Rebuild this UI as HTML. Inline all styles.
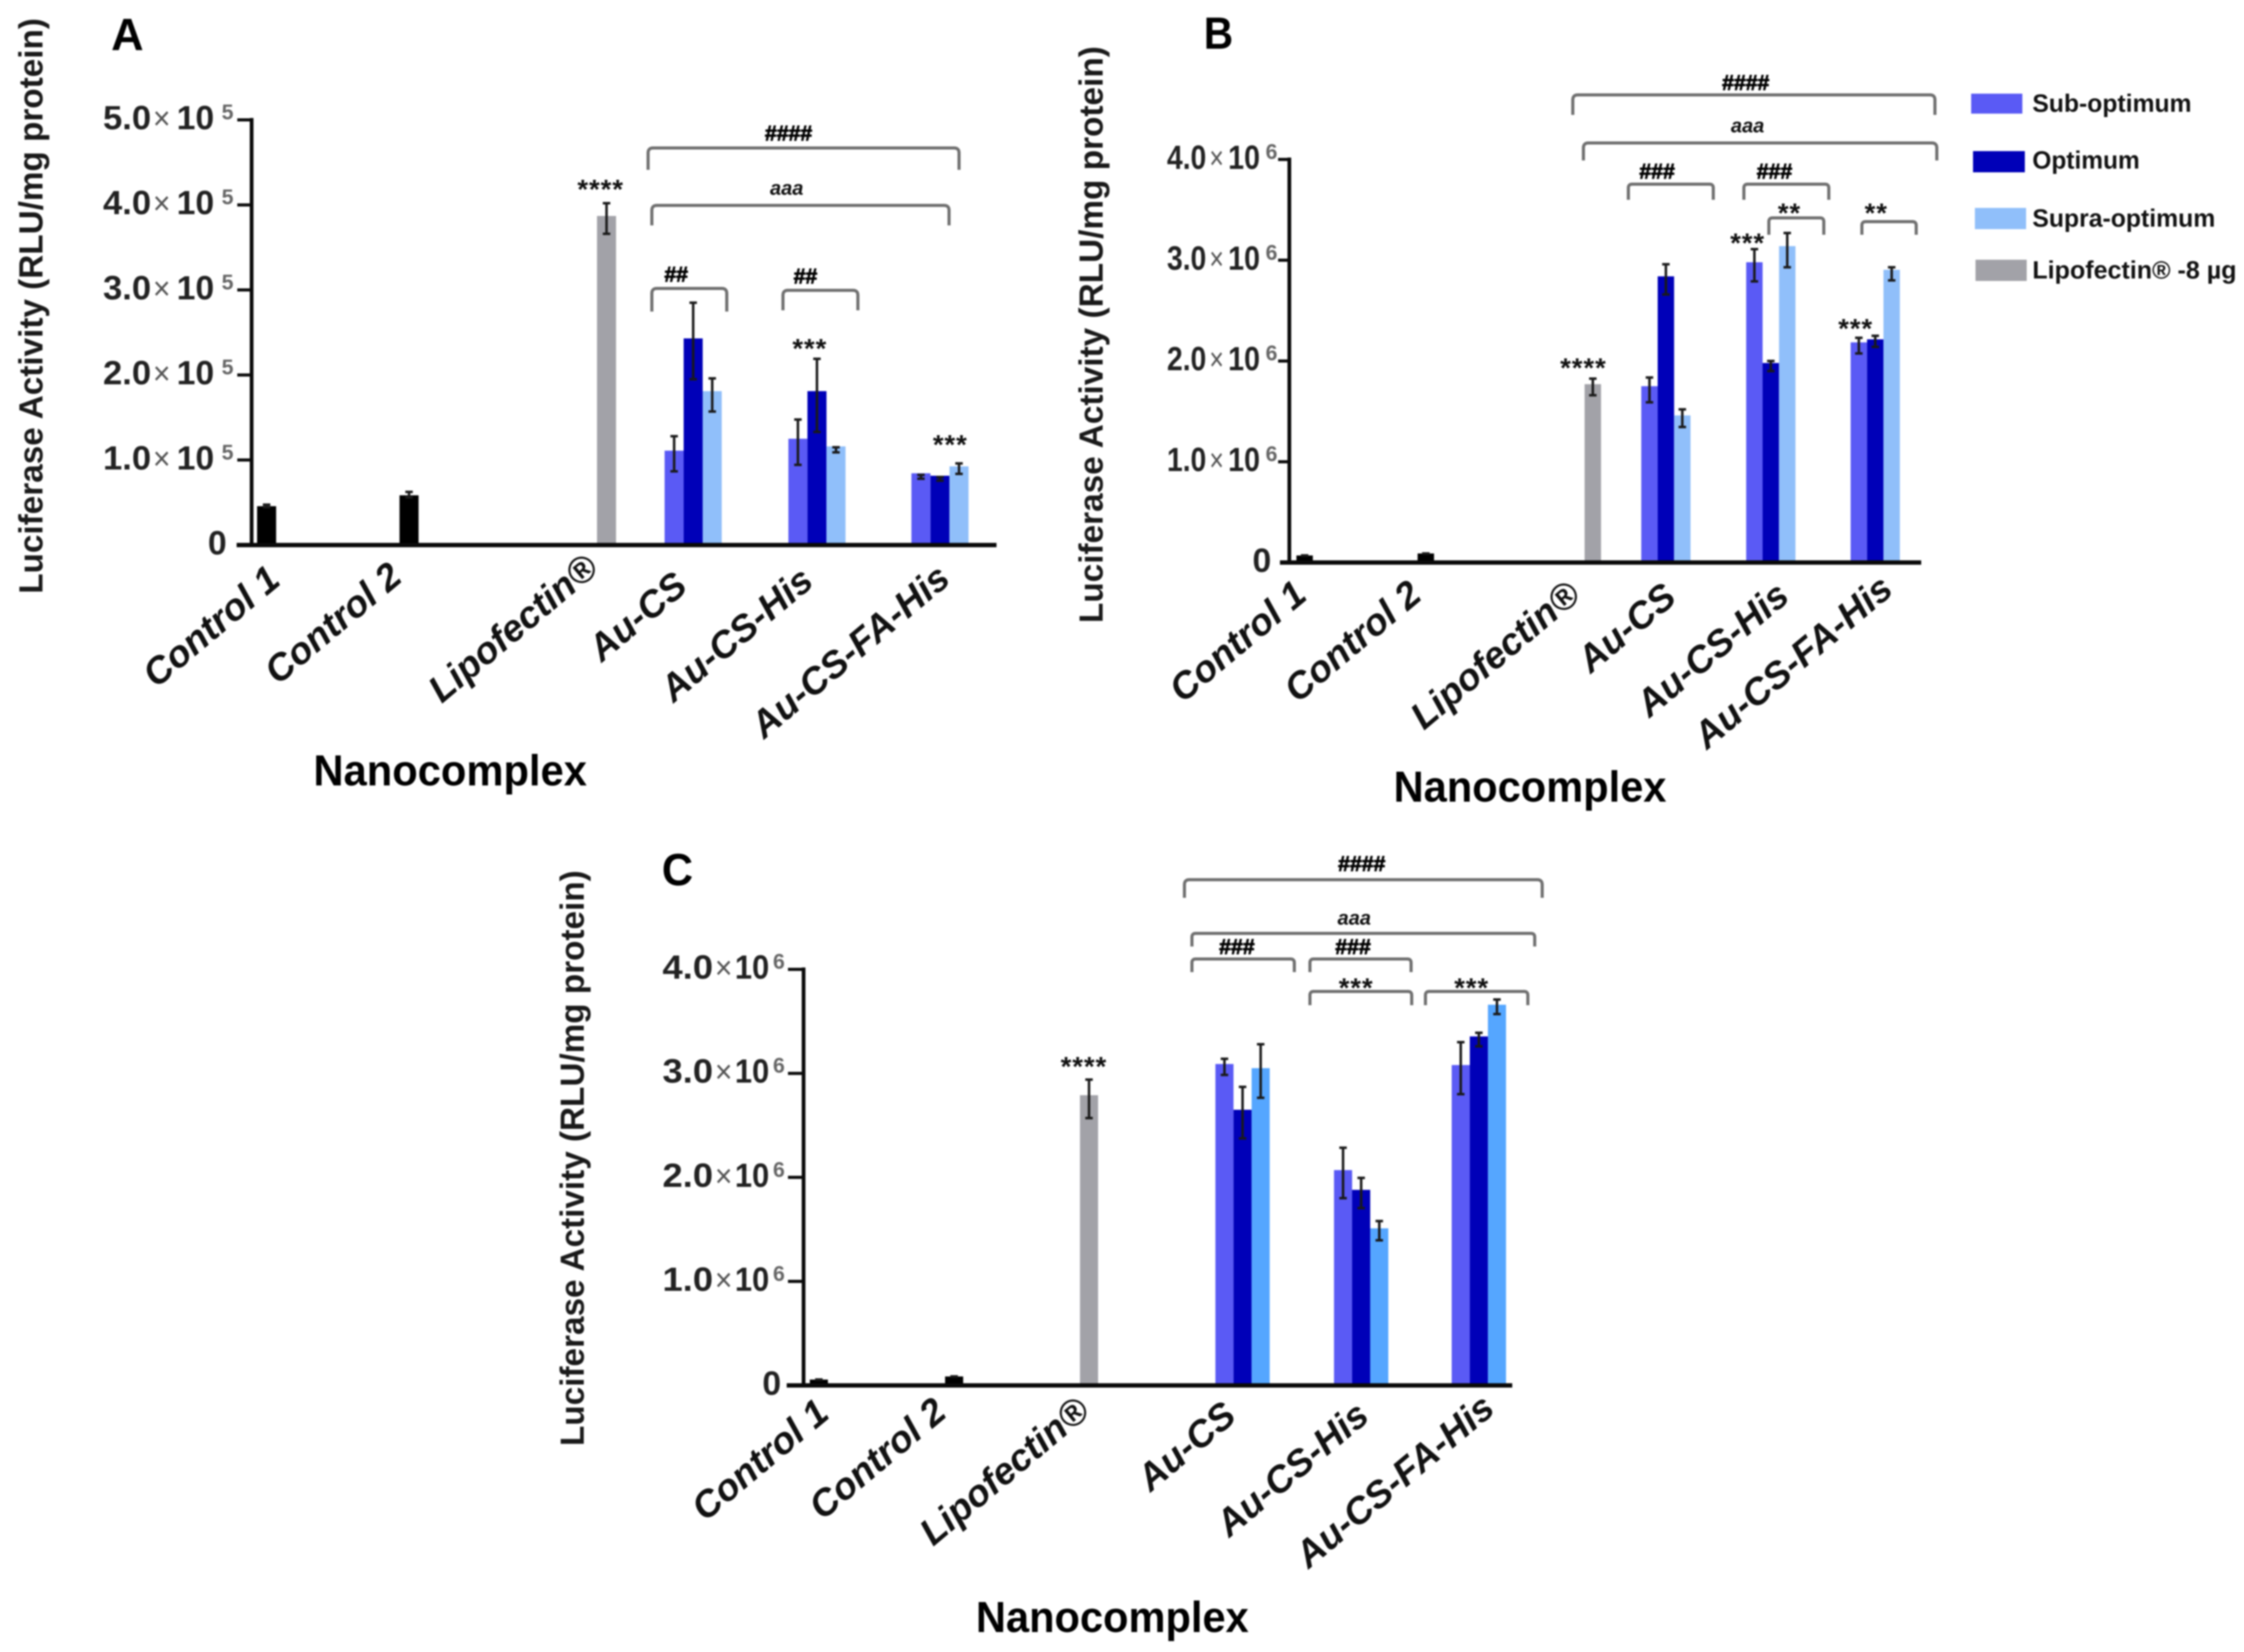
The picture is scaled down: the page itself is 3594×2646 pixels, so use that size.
<!DOCTYPE html>
<html lang="en">
<head>
<meta charset="utf-8">
<title>Luciferase activity of nanocomplexes</title>
<style>
html,body{margin:0;padding:0;background:#fff;}
svg{display:block;font-family:"Liberation Sans",Arial,sans-serif;}
#figure{filter:blur(1.2px);}
.b{font-weight:700;fill:#111;}
.hash{font-weight:700;font-size:34px;fill:#000;stroke:#000;stroke-width:1.2;text-anchor:middle;}
.aaa{font-weight:700;font-style:italic;font-size:32px;fill:#111;text-anchor:middle;}
.star{font-weight:700;font-size:44px;letter-spacing:1.5px;fill:#111;text-anchor:middle;}
.brk{fill:none;stroke:#707070;stroke-width:5;}
.title{font-weight:700;font-size:54px;fill:#1a1a1a;}
.xt{font-weight:700;font-size:70px;fill:#000;}
.letter{font-weight:700;font-size:72px;fill:#000;}
.leg{font-weight:700;font-size:40px;fill:#111;}
</style>
</head>
<body>
<svg id="chart" xmlns="http://www.w3.org/2000/svg" width="3594" height="2646" viewBox="0 0 3594 2646">
<rect width="3594" height="2646" fill="#fff"/>
<g id="figure">

<g>
<text class="letter" x="178" y="80" textLength="52" lengthAdjust="spacingAndGlyphs">A</text>
<text class="title" transform="translate(68 951) rotate(-90)" textLength="922" lengthAdjust="spacingAndGlyphs">Luciferase Activity (RLU/mg protein)</text>
<text class="xt" x="502" y="1258" textLength="438" lengthAdjust="spacingAndGlyphs">Nanocomplex</text>
<path class="brk" d="M1038 272V245Q1038 237 1046 237H1528Q1536 237 1536 245V272"/>
<path class="brk" d="M1044 361V337Q1044 329 1052 329H1512Q1520 329 1520 337V361"/>
<path class="brk" d="M1044 499V470Q1044 462 1052 462H1156Q1164 462 1164 470V499"/>
<path class="brk" d="M1254 497V473Q1254 465 1262 465H1366Q1374 465 1374 473V497"/>
<text class="hash" x="1263" y="225">####</text>
<text class="aaa" x="1260" y="312">aaa</text>
<text class="hash" x="1083" y="451">##</text>
<text class="hash" x="1290" y="454">##</text>
<text class="star" x="962" y="318">****</text>
<text class="star" x="1297" y="573">***</text>
<text class="star" x="1522" y="727">***</text>
</g>

<g>
<text class="letter" x="1928" y="78" textLength="47" lengthAdjust="spacingAndGlyphs">B</text>
<text class="title" transform="translate(1766 998) rotate(-90)" textLength="924" lengthAdjust="spacingAndGlyphs">Luciferase Activity (RLU/mg protein)</text>
<text class="xt" x="2232" y="1284" textLength="437" lengthAdjust="spacingAndGlyphs">Nanocomplex</text>
<path class="brk" d="M2519 184V160Q2519 152 2527 152H3091Q3099 152 3099 160V184"/>
<path class="brk" d="M2536 257V237Q2536 229 2544 229H3094Q3102 229 3102 237V257"/>
<path class="brk" d="M2608 320V301Q2608 295 2614 295H2738Q2744 295 2744 301V320"/>
<path class="brk" d="M2793 320V301Q2793 295 2799 295H2923Q2929 295 2929 301V320"/>
<path class="brk" d="M2833 376V355Q2833 349 2839 349H2915Q2921 349 2921 355V376"/>
<path class="brk" d="M2982 376V361Q2982 355 2988 355H3063Q3069 355 3069 361V376"/>
<text class="hash" x="2796" y="144">####</text>
<text class="aaa" x="2799" y="212">aaa</text>
<text class="hash" x="2654" y="286">###</text>
<text class="hash" x="2842" y="286">###</text>
<text class="star" x="2866" y="356">**</text>
<text class="star" x="3005" y="356">**</text>
<text class="star" x="2799" y="404">***</text>
<text class="star" x="2536" y="604">****</text>
<text class="star" x="2972" y="541">***</text>
</g>

<g>
<rect x="3157" y="150" width="82" height="32" fill="#5a5af5"/>
<text class="leg" x="3255" y="179" textLength="255" lengthAdjust="spacingAndGlyphs">Sub-optimum</text>
<rect x="3160" y="242" width="83" height="34" fill="#0000b8"/>
<text class="leg" x="3255" y="270" textLength="172" lengthAdjust="spacingAndGlyphs">Optimum</text>
<rect x="3163" y="333" width="82" height="34" fill="#90bffa"/>
<text class="leg" x="3255" y="363" textLength="293" lengthAdjust="spacingAndGlyphs">Supra-optimum</text>
<rect x="3164" y="416" width="82" height="34" fill="#a2a2a8"/>
<text class="leg" x="3255" y="446" textLength="327" lengthAdjust="spacingAndGlyphs">Lipofectin® -8 µg</text>
</g>

<g>
<text class="letter" x="1060" y="1418" textLength="50" lengthAdjust="spacingAndGlyphs">C</text>
<text class="title" transform="translate(935 2316) rotate(-90)" textLength="922" lengthAdjust="spacingAndGlyphs">Luciferase Activity (RLU/mg protein)</text>
<text class="xt" x="1563" y="2614" textLength="437" lengthAdjust="spacingAndGlyphs">Nanocomplex</text>
<path class="brk" d="M1897 1438V1417Q1897 1409 1905 1409H2462Q2470 1409 2470 1417V1438"/>
<path class="brk" d="M1909 1516V1501Q1909 1495 1915 1495H2452Q2458 1495 2458 1501V1516"/>
<path class="brk" d="M1909 1557V1542Q1909 1536 1915 1536H2067Q2073 1536 2073 1542V1557"/>
<path class="brk" d="M2098 1557V1542Q2098 1536 2104 1536H2254Q2260 1536 2260 1542V1557"/>
<path class="brk" d="M2098 1610V1594Q2098 1588 2104 1588H2255Q2261 1588 2261 1594V1610"/>
<path class="brk" d="M2283 1610V1594Q2283 1588 2289 1588H2441Q2447 1588 2447 1594V1610"/>
<text class="hash" x="2181" y="1395">####</text>
<text class="aaa" x="2169" y="1481">aaa</text>
<text class="hash" x="1981" y="1528">###</text>
<text class="hash" x="2167" y="1528">###</text>
<text class="star" x="2172" y="1597">***</text>
<text class="star" x="2357" y="1597">***</text>
<text class="star" x="1736" y="1723">****</text>
</g>
</g>
</svg>
<script>
const categories = ['Control 1', 'Control 2', 'Lipofectin®', 'Au-CS', 'Au-CS-His', 'Au-CS-FA-His'];
const seriesNames = ['sub-optimum', 'optimum', 'supra-optimum'];
const yTicksA = [0, 1, 2, 3, 4, 5];
const yTicksB = [0, 1, 2, 3, 4];
const yTicksC = [0, 1, 2, 3, 4];
const yExponentA = '5';
const yExponentB = '6';
const yExponentC = '6';

// Panel A, values in units of 10^5 RLU/mg protein
const aControlMean = [0.457, 0.585];
const aControlHigh = [0.475, 0.625];
const aControlLow = [0.445, 0.56];
const aLipoMean = [3.87];
const aLipoHigh = [4.02];
const aLipoLow = [3.66];
const aSubMean = [1.11, 1.25, 0.844];
const aSubHigh = [1.28, 1.476, 0.825];
const aSubLow = [0.867, 0.943, 0.78];
const aOptMean = [2.43, 1.81, 0.815];
const aOptHigh = [2.85, 2.19, 0.80];
const aOptLow = [1.95, 1.33, 0.757];
const aSupMean = [1.81, 1.16, 0.925];
const aSupHigh = [1.96, 1.15, 0.96];
const aSupLow = [1.57, 1.09, 0.837];

// Panel B, values in units of 10^6 RLU/mg protein
const bControlMean = [0.07, 0.09];
const bControlHigh = [0.07, 0.09];
const bControlLow = [0.07, 0.09];
const bLipoMean = [1.77];
const bLipoHigh = [1.825];
const bLipoLow = [1.66];
const bSubMean = [1.75, 2.98, 2.185];
const bSubHigh = [1.836, 3.11, 2.23];
const bSubLow = [1.59, 2.79, 2.075];
const bOptMean = [2.84, 1.98, 2.215];
const bOptHigh = [2.96, 2.0, 2.25];
const bOptLow = [2.66, 1.90, 2.14];
const bSupMean = [1.46, 3.14, 2.905];
const bSupHigh = [1.52, 3.27, 2.93];
const bSupLow = [1.345, 2.93, 2.80];

// Panel C, values in units of 10^6 RLU/mg protein
const cControlMean = [0.056, 0.086];
const cControlHigh = [0.056, 0.086];
const cControlLow = [0.056, 0.086];
const cLipoMean = [2.79];
const cLipoHigh = [2.94];
const cLipoLow = [2.57];
const cSubMean = [3.09, 2.07, 3.08];
const cSubHigh = [3.14, 2.285, 3.30];
const cSubLow = [2.985, 1.80, 2.80];
const cOptMean = [2.65, 1.88, 3.355];
const cOptHigh = [2.87, 1.995, 3.39];
const cOptLow = [2.375, 1.705, 3.26];
const cSupMean = [3.05, 1.51, 3.66];
const cSupHigh = [3.28, 1.58, 3.71];
const cSupLow = [2.765, 1.395, 3.57];

const NS = 'http://www.w3.org/2000/svg';
const figure = document.getElementById('figure');

function make(parent, tag, attrs, txt) {
  const el = document.createElementNS(NS, tag);
  for (const k in attrs) el.setAttribute(k, attrs[k]);
  if (txt !== undefined) el.textContent = txt;
  parent.appendChild(el);
  return el;
}

function drawErr(g, panel, cx, yHigh, yLow, label) {
  const stem = make(g, 'line', {x1: cx, x2: cx, y1: yHigh, y2: yLow, stroke: '#1a1a1a', 'stroke-width': 4});
  
  
  const capTop = make(g, 'line', {x1: cx - 6, x2: cx + 6, y1: yHigh, y2: yHigh, stroke: '#1a1a1a', 'stroke-width': 4});
  
  
  const capLow = make(g, 'line', {x1: cx - 6, x2: cx + 6, y1: yLow, y2: yLow, stroke: '#1a1a1a', 'stroke-width': 4});
  
  
}

function drawBar(g, panel, cx, v, high, low, fill, L, y, label) {
  const top = y(v);
  const bar = make(g, 'rect', {x: cx - L.barW / 2, y: top, width: L.barW, height: Math.max(0, L.zero - top), fill: fill});
  
  
  drawErr(g, panel, cx, y(high), y(low), label);
}

function drawPanel(panel, L, ticks, exponent, d) {
  const g = make(figure, 'g', {});
  
  
  const y = v => L.zero - v * L.unit;
  const x = i => L.firstCenter + L.barW * L.slots[i];

  // bars: controls (two black), Lipofectin (grey), three series groups
  d.controlMean.forEach((v, i) => {
    drawBar(g, panel, x(i), v, d.controlHigh[i], d.controlLow[i], '#000', L, y, 'control-' + (i + 1));
  });
  drawBar(g, panel, x(2), d.lipoMean[0], d.lipoHigh[0], d.lipoLow[0], '#a2a2a8', L, y, 'lipofectin');
  const seriesMean = [d.subMean, d.optMean, d.supMean];
  const seriesHigh = [d.subHigh, d.optHigh, d.supHigh];
  const seriesLow = [d.subLow, d.optLow, d.supLow];
  const colors = ['#5a5af5', '#0000b8', L.supColor];
  seriesMean.forEach((vals, s) => {
    vals.forEach((v, i) => {
      const cx = x(i + 3) + (s - 1) * L.barW;
      drawBar(g, panel, cx, v, seriesHigh[s][i], seriesLow[s][i], colors[s], L, y, `${categories[i + 3].toLowerCase()}-${seriesNames[s]}`);
    });
  });

  // axes
  const yAxis = make(g, 'line', {x1: L.axisX, x2: L.axisX, y1: y(ticks[ticks.length - 1]) - 3, y2: L.zero + 3, stroke: '#0a0a0a', 'stroke-width': 6});
  
  
  const xAxis = make(g, 'line', {x1: L.xStart, x2: L.xEnd, y1: L.zero, y2: L.zero, stroke: '#0a0a0a', 'stroke-width': 7});
  
  

  // y ticks and labels
  ticks.forEach(t => {
    const ty = y(t);
    if (t === 0) {
      const zeroLabel = make(g, 'text', {x: L.axisX - L.zeroRight, y: ty + 15, 'text-anchor': 'end', 'font-size': 54, 'font-weight': 700, fill: '#222'}, '0');
      
      
      return;
    }
    const tick = make(g, 'line', {x1: L.axisX - L.tickLen, x2: L.axisX, y1: ty, y2: ty, stroke: '#0a0a0a', 'stroke-width': 5});
    
    
    const num = make(g, 'text', {x: L.axisX - L.numOff, y: ty + 15, 'font-size': 54, 'font-weight': 700, fill: '#222', textLength: L.numW, lengthAdjust: 'spacingAndGlyphs'}, t.toFixed(1));
    
    
    const times = make(g, 'text', {x: L.axisX - L.timesOff, y: ty + 15, 'font-size': 52, fill: '#555', textLength: L.timesW, lengthAdjust: 'spacingAndGlyphs'}, '×');
    
    
    const ten = make(g, 'text', {x: L.axisX - L.tenOff, y: ty + 15, 'font-size': 54, 'font-weight': 700, fill: '#222', textLength: L.tenW, lengthAdjust: 'spacingAndGlyphs'}, '10');
    
    
    const sup = make(g, 'text', {x: L.axisX - L.supOff, y: ty - 1, 'font-size': 34, 'font-weight': 700, fill: '#666'}, exponent);
    
    
  });

  // category labels
  categories.forEach((name, i) => {
    const p = L.labelEnds[i];
    const label = make(g, 'text', {transform: `translate(${p[0]} ${p[1]}) rotate(-40)`, 'text-anchor': 'end', 'font-size': 60, 'font-weight': 700, 'font-style': 'italic', fill: '#111'}, name);
    
    
  });
}

drawPanel('panel-a', {
  zero: 873, unit: 136.2, axisX: 403, xStart: 379, xEnd: 1596, tickLen: 23,
  barW: 30.5, firstCenter: 427, slots: [0, 7.48, 17.85, 22.4, 28.9, 35.36],
  numOff: 238, numW: 77, timesOff: 158, timesW: 28, tenOff: 120, tenW: 60, supOff: 48, zeroRight: 40,
  supColor: '#90bffa',
  labelEnds: [[452, 934], [647, 929], [961, 915], [1104, 944], [1306, 936], [1525, 932]]
}, yTicksA, yExponentA, {
  controlMean: aControlMean, controlHigh: aControlHigh, controlLow: aControlLow,
  lipoMean: aLipoMean, lipoHigh: aLipoHigh, lipoLow: aLipoLow,
  subMean: aSubMean, subHigh: aSubHigh, subLow: aSubLow,
  optMean: aOptMean, optHigh: aOptHigh, optLow: aOptLow,
  supMean: aSupMean, supHigh: aSupHigh, supLow: aSupLow
});

drawPanel('panel-b', {
  zero: 901, unit: 161.4, axisX: 2065, xStart: 2050, xEnd: 3077, tickLen: 18,
  barW: 26.3, firstCenter: 2089.5, slots: [0, 7.38, 17.55, 22, 28.39, 34.75],
  numOff: 196, numW: 63, timesOff: 128, timesW: 23, tenOff: 98, tenW: 51, supOff: 38, zeroRight: 29,
  supColor: '#90bffa',
  labelEnds: [[2096, 958], [2280, 958], [2534, 958], [2688, 962], [2869, 960], [3035, 949]]
}, yTicksB, yExponentB, {
  controlMean: bControlMean, controlHigh: bControlHigh, controlLow: bControlLow,
  lipoMean: bLipoMean, lipoHigh: bLipoHigh, lipoLow: bLipoLow,
  subMean: bSubMean, subHigh: bSubHigh, subLow: bSubLow,
  optMean: bOptMean, optHigh: bOptHigh, optLow: bOptLow,
  supMean: bSupMean, supHigh: bSupHigh, supLow: bSupLow
});

drawPanel('panel-c', {
  zero: 2219, unit: 166.6, axisX: 1287, xStart: 1260, xEnd: 2422, tickLen: 25,
  barW: 29, firstCenter: 1311.5, slots: [0, 7.47, 14.92, 23.4, 29.95, 36.45],
  numOff: 226, numW: 81, timesOff: 142, timesW: 28, tenOff: 110, tenW: 55, supOff: 49, zeroRight: 36,
  supColor: '#55a6ff',
  labelEnds: [[1331, 2269], [1519, 2267], [1748, 2265], [1983, 2273], [2196, 2273], [2397, 2261]]
}, yTicksC, yExponentC, {
  controlMean: cControlMean, controlHigh: cControlHigh, controlLow: cControlLow,
  lipoMean: cLipoMean, lipoHigh: cLipoHigh, lipoLow: cLipoLow,
  subMean: cSubMean, subHigh: cSubHigh, subLow: cSubLow,
  optMean: cOptMean, optHigh: cOptHigh, optLow: cOptLow,
  supMean: cSupMean, supHigh: cSupHigh, supLow: cSupLow
});
</script>
</body>
</html>
